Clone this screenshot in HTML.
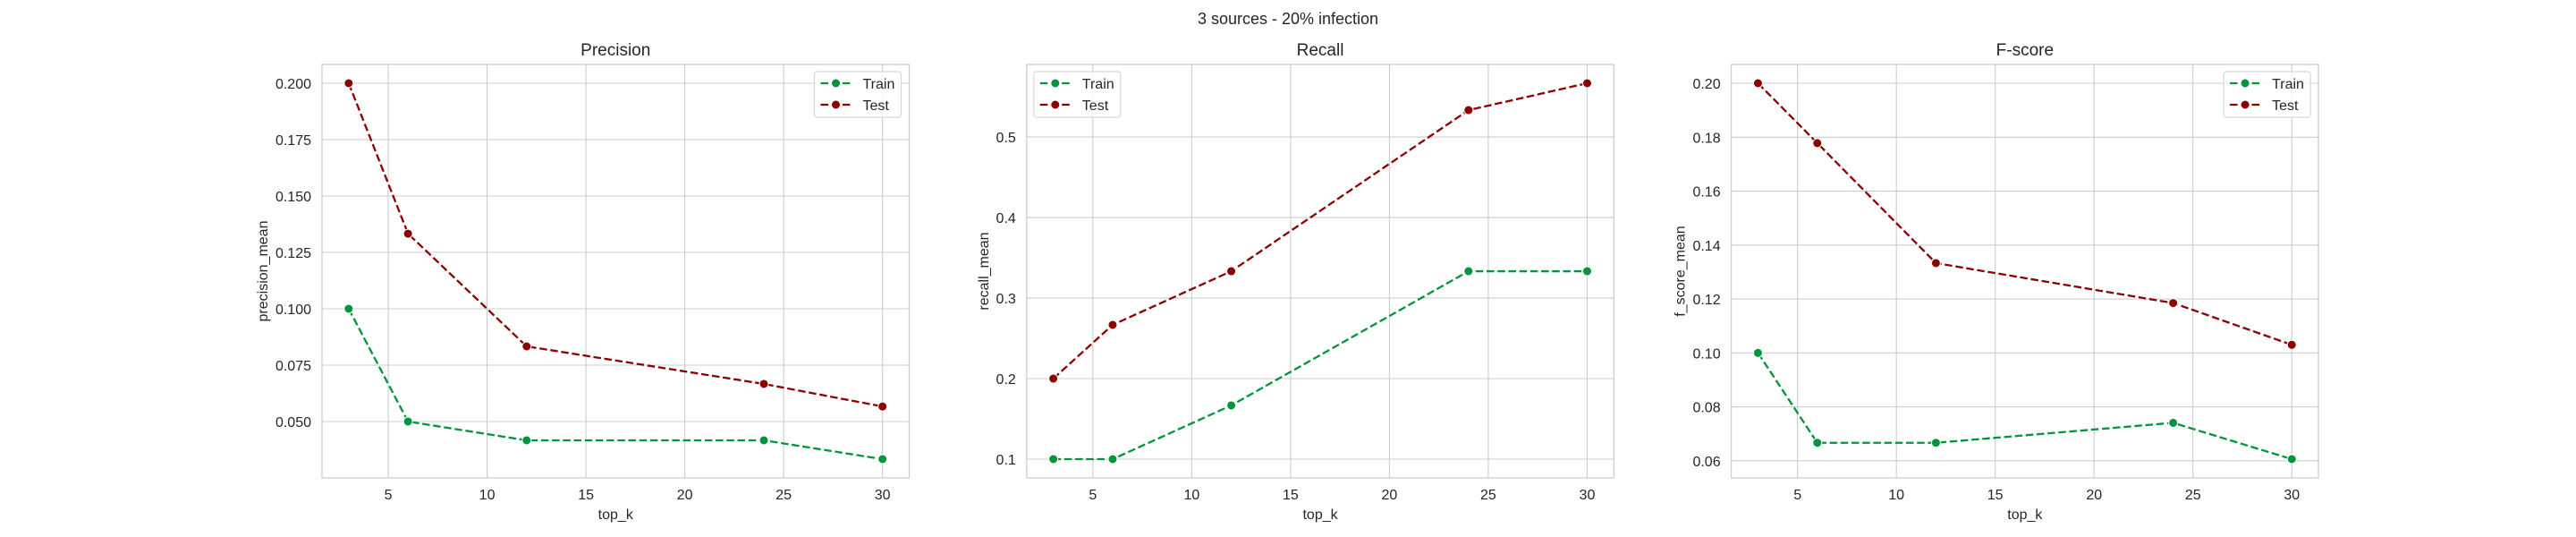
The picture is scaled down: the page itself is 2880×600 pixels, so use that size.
<!DOCTYPE html>
<html><head><meta charset="utf-8"><style>
html,body{margin:0;padding:0;background:#fff;}
svg{display:block;font-family:"Liberation Sans",Arial,sans-serif;}
</style></head><body>
<svg id="fig" width="2880" height="600" viewBox="0 0 2880 600" xmlns="http://www.w3.org/2000/svg">
<rect width="2880" height="600" fill="#fff"/>
<text x="1440" y="27" text-anchor="middle" font-size="18" fill="#262626">3 sources - 20% infection</text>
</svg>
<script>
const topK = [3, 6, 12, 24, 30];
const precisionTrain = [0.1, 0.05, 0.04167, 0.04167, 0.03333];
const precisionTest = [0.2, 0.1333, 0.08333, 0.06667, 0.05667];
const recallTrain = [0.1, 0.1, 0.1667, 0.3333, 0.3333];
const recallTest = [0.2, 0.2667, 0.3333, 0.5333, 0.5667];
const fscoreTrain = [0.1, 0.06667, 0.06667, 0.07407, 0.06061];
const fscoreTest = [0.2, 0.1778, 0.1333, 0.1185, 0.1030];
const xTicks = [5, 10, 15, 20, 25, 30];
const precisionTicks = ["0.050", "0.075", "0.100", "0.125", "0.150", "0.175", "0.200"];
const recallTicks = ["0.1", "0.2", "0.3", "0.4", "0.5"];
const fscoreTicks = ["0.06", "0.08", "0.10", "0.12", "0.14", "0.16", "0.18", "0.20"];

const NS = "http://www.w3.org/2000/svg";
const svg = document.getElementById('fig');
function mk(tag, attrs, parent) {
  const e = document.createElementNS(NS, tag);
  for (const k in attrs) e.setAttribute(k, attrs[k]);
  (parent || svg).appendChild(e);
  return e;
}
const GREEN = "#00943c", RED = "#8b0000", GRID = "#cccccc", TXT = "#262626";
const AX_W = 656.5, AX_T = 72, AX_B = 534;

function drawPanel(idx, title, ylabel, train, test, ticks, legendLeft, slug) {
  const L = 360 + idx * AX_W * 1.2, R = L + AX_W;
  const g = mk('g', {});
  
  
  const all = train.concat(test);
  const ymin = Math.min(...all), ymax = Math.max(...all), yr = ymax - ymin;
  const y0 = ymin - 0.05 * yr, y1 = ymax + 0.05 * yr;
  const xmin = Math.min(...topK), xmax = Math.max(...topK), xr = xmax - xmin;
  const x0 = xmin - 0.05 * xr, x1 = xmax + 0.05 * xr;
  const sx = v => L + (v - x0) / (x1 - x0) * AX_W;
  const sy = v => AX_B - (v - y0) / (y1 - y0) * (AX_B - AX_T);
  // grid + ticks
  xTicks.forEach(t => {
    const x = sx(t);
    const gl = mk('line', {x1: x, x2: x, y1: AX_T, y2: AX_B, stroke: GRID, 'stroke-width': 1.1}, g);
    
    
    const tl = mk('text', {x: x, y: 558, 'text-anchor': 'middle', 'font-size': 16, fill: TXT}, g);
    
    
    tl.textContent = t;
  });
  let maxW = 0;
  ticks.forEach(t => {
    const y = sy(parseFloat(t));
    const gl = mk('line', {x1: L, x2: R, y1: y, y2: y, stroke: GRID, 'stroke-width': 1.1}, g);
    
    
    const tl = mk('text', {x: L - 12, y: y + 6, 'text-anchor': 'end', 'font-size': 16, fill: TXT}, g);
    
    
    tl.textContent = t;
    maxW = Math.max(maxW, t.length * 8.9 - 4.45 * (t.indexOf('.') >= 0 ? 1 : 0));
  });
  const frame = mk('rect', {x: L, y: AX_T, width: AX_W, height: AX_B - AX_T, fill: 'none', stroke: GRID, 'stroke-width': 1.25}, g);
  
  
  // series
  [[train, GREEN, 'train'], [test, RED, 'test']].forEach(([vals, col, nm]) => {
    const pts = topK.map((k, i) => sx(k) + ',' + sy(vals[i])).join(' ');
    const pl = mk('polyline', {points: pts, fill: 'none', stroke: col, 'stroke-width': 2.3, 'stroke-dasharray': '8.5,3.7'}, g);
    
    
    topK.forEach((k, i) => {
      const c = mk('circle', {cx: sx(k), cy: sy(vals[i]), r: 5, fill: col, stroke: '#fff', 'stroke-width': 1}, g);
      
      
    });
  });
  // titles
  const tt = mk('text', {x: L + AX_W / 2, y: 62, 'text-anchor': 'middle', 'font-size': 19, fill: TXT}, g);
  
  
  tt.textContent = title;
  const xl = mk('text', {x: L + AX_W / 2, y: 580, 'text-anchor': 'middle', 'font-size': 16, fill: TXT}, g);
  
  
  xl.textContent = 'top_k';
  const lx = L - 12 - maxW - 13;
  const yl = mk('text', {x: lx, y: (AX_T + AX_B) / 2, 'text-anchor': 'middle', 'font-size': 16, fill: TXT, transform: 'rotate(-90 ' + lx + ' ' + ((AX_T + AX_B) / 2) + ')', 'dominant-baseline': 'middle'}, g);
  
  
  yl.textContent = ylabel;
  // legend
  const bx = legendLeft ? L + 8 : R - 106;
  const lg = mk('g', {}, g);
  
  
  mk('rect', {x: bx, y: 80, width: 97, height: 51, rx: 3, fill: 'rgba(255,255,255,0.8)', stroke: '#d6d6d6', 'stroke-width': 1.2}, lg);
  [['Train', GREEN, 93], ['Test', RED, 117]].forEach(([lab, col, y]) => {
    const e = mk('g', {}, lg);
    
    
    mk('line', {x1: bx + 7, x2: bx + 41, y1: y, y2: y, stroke: col, 'stroke-width': 2.3, 'stroke-dasharray': '8.5,3.7'}, e);
    mk('circle', {cx: bx + 24, cy: y, r: 5, fill: col, stroke: '#fff', 'stroke-width': 1}, e);
    const t = mk('text', {x: bx + 54, y: y + 6, 'font-size': 16, fill: TXT}, e);
    t.textContent = lab;
  });
}
drawPanel(0, 'Precision', 'precision_mean', precisionTrain, precisionTest, precisionTicks, false, 'precision');
drawPanel(1, 'Recall', 'recall_mean', recallTrain, recallTest, recallTicks, true, 'recall');
drawPanel(2, 'F-score', 'f_score_mean', fscoreTrain, fscoreTest, fscoreTicks, false, 'fscore');
</script>
</body></html>
